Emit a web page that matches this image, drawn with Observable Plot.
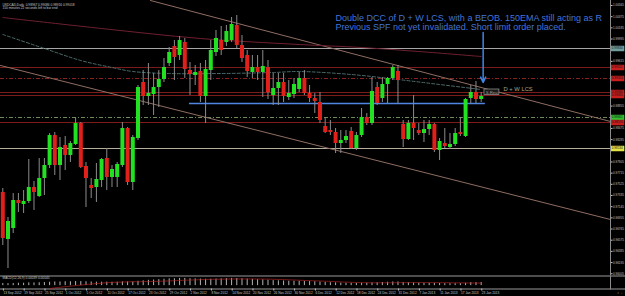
<!DOCTYPE html>
<html><head><meta charset="utf-8">
<script src="https://cdn.jsdelivr.net/npm/d3@7"></script>
<script src="https://cdn.jsdelivr.net/npm/@observablehq/plot@0.6"></script>
<style>
html,body{margin:0;padding:0;background:#000;}
#chart svg{display:block;}
</style></head><body><div id="chart"></div>
<script>
// ---------- data ----------
const titleLines = ["USDCAD,Daily  0.98967 0.99086 0.98916 0.99018", "150 minutes 22 seconds left to bar end"];
const opens = [0.97386,0.96587,0.96774,0.97250,0.97182,0.97233,0.97471,0.97318,0.97624,0.97845,
0.98355,0.97845,0.98185,0.98015,0.98202,0.98559,0.97828,0.97505,0.97471,0.97590,
0.97964,0.97641,0.97641,0.97845,0.98474,0.97556,0.98304,0.99256,0.99018,0.99052,
0.99171,0.99307,0.99579,0.99868,0.99715,0.99936,0.99460,0.99375,0.99443,0.99018,
0.99460,0.99766,0.99970,0.99936,0.99970,1.00225,0.99885,0.99715,0.99426,0.99511,
0.99426,0.99511,0.99035,0.99154,0.99256,0.99001,0.99052,0.99137,0.99324,0.99069,
0.98984,0.98916,0.98508,0.98440,0.98406,0.98219,0.98270,0.98423,0.98134,0.98355,
0.98661,0.98559,0.99171,0.98984,0.99222,0.99324,0.99443,0.98542,0.98287,0.98559,
0.98440,0.98389,0.98457,0.98542,0.98100,0.98219,0.98151,0.98202,0.98406,0.98338,
0.98984,0.99086,0.98967];
const highs = [0.97454,0.96961,0.97369,0.97369,0.97420,0.97947,0.97573,0.97964,0.97964,0.98389,
0.98406,0.98321,0.98338,0.98253,0.98644,0.98576,0.97896,0.97624,0.97879,0.97964,
0.98134,0.97845,0.97896,0.98576,0.98491,0.98355,0.99205,0.99460,0.99579,0.99409,
0.99460,0.99664,0.99851,0.99970,1.00038,1.00004,0.99596,0.99545,0.99579,0.99630,
0.99970,1.00140,1.00208,1.00225,1.00361,1.00395,1.00055,0.99800,0.99715,0.99715,
0.99800,0.99630,0.99409,0.99409,0.99409,0.99290,0.99324,0.99426,0.99460,0.99205,
0.99069,0.99086,0.98644,0.98610,0.98474,0.98440,0.98440,0.98491,0.98406,0.98814,
0.98729,0.99341,0.99256,0.99341,0.99341,0.99545,0.99545,0.98610,0.98610,0.99035,
0.98559,0.98610,0.98610,0.98559,0.98304,0.98474,0.98389,0.98474,0.98661,0.98984,
0.99205,0.99273,0.99086];
const lows = [0.96485,0.96094,0.96689,0.97046,0.97029,0.97199,0.97080,0.97301,0.97335,0.97794,
0.97675,0.97590,0.97760,0.97896,0.98185,0.97794,0.97131,0.97284,0.97216,0.97471,
0.97420,0.97471,0.97471,0.97811,0.97505,0.97420,0.98270,0.98865,0.98865,0.98695,
0.98831,0.99256,0.99528,0.99290,0.99630,0.99324,0.99035,0.99205,0.98916,0.98559,
0.99290,0.99698,0.99715,0.99868,0.99936,0.99834,0.99596,0.99341,0.99324,0.99290,
0.99001,0.98967,0.98865,0.98865,0.98916,0.98950,0.98984,0.99086,0.99035,0.98916,
0.98729,0.98559,0.98389,0.98355,0.98049,0.98049,0.98219,0.98117,0.98100,0.98321,
0.98525,0.98525,0.98865,0.98916,0.98899,0.99290,0.98899,0.98151,0.98270,0.98270,
0.98355,0.98236,0.98355,0.98066,0.97930,0.98134,0.98117,0.98168,0.98338,0.98321,
0.98899,0.98899,0.98916];
const closes = [0.96604,0.96893,0.97250,0.97199,0.97233,0.97471,0.97386,0.97624,0.97845,0.98355,
0.97845,0.98151,0.98015,0.98219,0.98559,0.97811,0.97624,0.97454,0.97607,0.97947,
0.97641,0.97777,0.97862,0.98474,0.97556,0.98321,0.99171,0.99018,0.99069,0.99171,
0.99307,0.99511,0.99766,0.99681,0.99970,0.99477,0.99392,0.99426,0.99018,0.99477,
0.99800,1.00004,0.99800,1.00123,1.00242,0.99885,0.99664,0.99443,0.99511,0.99426,
0.99528,0.99086,0.99154,0.99256,0.99018,0.99069,0.99222,0.99324,0.99069,0.98984,
0.98933,0.98610,0.98406,0.98406,0.98219,0.98270,0.98338,0.98134,0.98355,0.98661,
0.98559,0.99103,0.98899,0.99222,0.99324,0.99511,0.99290,0.98287,0.98559,0.98474,
0.98389,0.98457,0.98542,0.98100,0.98253,0.98168,0.98202,0.98389,0.98372,0.98967,
0.99086,0.98967,0.99018];

const dateTickIdx = [0,4,8,12,16,20,24,28,32,36,40,44,48,52,56,60,64,68,72,76,80,84,88,92];
const dateTickLabels = ["13 Sep 2012","19 Sep 2012","25 Sep 2012","1 Oct 2012","5 Oct 2012","11 Oct 2012",
"17 Oct 2012","23 Oct 2012","29 Oct 2012","2 Nov 2012","8 Nov 2012","14 Nov 2012","20 Nov 2012",
"26 Nov 2012","30 Nov 2012","6 Dec 2012","12 Dec 2012","18 Dec 2012","24 Dec 2012","31 Dec 2012",
"7 Jan 2013","11 Jan 2013","17 Jan 2013","23 Jan 2013"];
const priceTicks = [1.00565,1.00375,1.00185,0.99995,0.99805,0.99615,0.99425,0.99235,0.99045,0.98855,
0.98665,0.98475,0.98285,0.98095,0.97905,0.97715,0.97525,0.97335,0.97145,0.96955,0.96765,0.96575,
0.96385,0.96195,0.96005];

const levelPrices = [0.99834,0.99511,0.99324,0.99086,0.99035,0.98661,0.98576,0.98134];
const levelKinds  = ["grey","red","reddash","red","red","greendash","red","beige"];

const emaIdx = [0,8,15,21,25,32,42,52,57,67,76,84,92];
const emaVal = [1.00072,0.99834,0.99630,0.99511,0.99443,0.99409,0.99409,0.99426,0.99443,0.99392,0.99307,0.99222,0.99137];
const smaIdx = [0,19,38,57,69,80,92];
const smaVal = [1.00361,1.00174,1.00004,0.99902,0.99851,0.99783,0.99698];

const trendAIdx = [28.4,116.87];  const trendAVal = [1.00650,0.98593];
const trendBIdx = [-0.44,116.87]; const trendBVal = [0.99545,0.96927];

const supportIdx = [35.9,92.8];   const supportPrice = 0.98899;
const arrowIdx = 92.38; const arrowFrom = 1.00106; const arrowTo = 0.99256;
const noteLines = ["Double DCC of D + W LCS, with a BEOB. 150EMA still acting as R",
                   "Previous SPF not yet invalidated. Short limit order placed."];
const noteIdx = 64.0; const notePrice = 1.00419;
const lcsText = "D + W LCS"; const lcsIdx = 96.3; const lcsPrice = 0.99135;
const boxText = "S.Resi"; const boxIdx = [92.63,95.5]; const boxPrice = [0.99043,0.99137];

const macdHist = [0.22,0.2,0.22,0.25,0.25,0.28,0.28,0.3,0.32,0.35,
0.38,0.38,0.4,0.4,0.42,0.42,0.4,0.38,0.36,0.36,
0.36,0.35,0.35,0.38,0.38,0.38,0.45,0.5,0.55,0.58,
0.62,0.66,0.7,0.72,0.75,0.75,0.72,0.7,0.68,0.66,
0.66,0.68,0.7,0.72,0.75,0.74,0.72,0.68,0.65,0.62,
0.6,0.56,0.52,0.5,0.48,0.46,0.45,0.45,0.44,0.42,
0.4,0.37,0.33,0.3,0.28,0.26,0.25,0.24,0.23,0.24,
0.25,0.28,0.3,0.32,0.35,0.38,0.38,0.33,0.3,0.28,
0.26,0.25,0.25,0.24,0.22,0.2,0.2,0.2,0.2,0.25,
0.3,0.32,0.33];
const signalIdx = [9,20,30,40,50,60,70,80,92];
const signalVal = [-0.3,0.3,0.45,0.65,0.68,0.5,0.3,0.32,0.26];
const macdLabel = "MACD(12,26,9) 0.00039 0.00045";

// ---------- build ----------
const xMin = -0.442, xMax = 116.87;
const xFull = xMin + (xMax - xMin) * 625 / 610;
const fmt5 = d3.format(".5f");
const candles = opens.map((o, i) => ({i, open: o, high: highs[i], low: lows[i], close: closes[i], up: closes[i] >= o}));
const levels = levelPrices.map((p, k) => ({p, kind: levelKinds[k]}));
const levelStyle = {
  grey: {stroke: "#a6a6a6", box: "#6e9f9f"},
  red: {stroke: "#7d1b1b", box: "#c81e1e"},
  reddash: {stroke: "#8a2222", dash: "4,2,1,2", box: "#c81e1e"},
  greendash: {stroke: "#6c8c5c", dash: "4,2,1,2", box: "#2fc22f"},
  beige: {stroke: "#b6ad9c", box: "#e3e346"}
};
// tick labels hidden behind the coloured price boxes are not drawn
const visibleTicks = priceTicks.filter(t => levelPrices.every(p => Math.abs(p - t) > 0.0009));
const zip = (a, b) => a.map((v, k) => ({i: v, p: b[k]}));
const font = "'Liberation Sans', Arial, sans-serif";

const main = Plot.plot({
  width: 625, height: 275,
  marginTop: 0, marginBottom: 1, marginLeft: 0, marginRight: 15,
  style: {background: "#000", color: "#c4c4c4", fontFamily: font},
  x: {domain: [xMin, xMax], axis: null},
  y: {domain: [0.95992, 1.0065]},
  marks: [
    ...Object.entries(levelStyle).map(([kind, s]) =>
      Plot.ruleY(levels.filter(d => d.kind === kind), {y: "p", stroke: s.stroke, strokeDasharray: s.dash, strokeWidth: 1})),
    Plot.line(zip(trendAIdx, trendAVal), {x: "i", y: "p", stroke: "#8f6e62", strokeWidth: 1}),
    Plot.line(zip(trendBIdx, trendBVal), {x: "i", y: "p", stroke: "#8f6e62", strokeWidth: 1}),
    Plot.line(zip(smaIdx, smaVal), {x: "i", y: "p", stroke: "#6e2030", strokeWidth: 1, curve: "catmull-rom"}),
    Plot.line(zip(emaIdx, emaVal), {x: "i", y: "p", stroke: "#4d6b6b", strokeWidth: 1, strokeDasharray: "3,2", curve: "catmull-rom"}),
    Plot.ruleY([supportPrice], {x1: supportIdx[0], x2: supportIdx[1], stroke: "#4f86e2", strokeWidth: 1.3}),
    Plot.ruleX(candles, {x: "i", y1: "low", y2: "high", stroke: "#8c8c8c", strokeWidth: 1}),
    Plot.ruleX(candles, {x: "i", y1: "open", y2: "close", stroke: d => d.up ? "#22e022" : "#e0201a", strokeWidth: 4}),
    Plot.arrow([{i: arrowIdx, a: arrowFrom, b: arrowTo}], {x1: "i", x2: "i", y1: "a", y2: "b", stroke: "#3d86e6", strokeWidth: 1.5, headLength: 6, headAngle: 50}),
    Plot.rect([{}], {x1: boxIdx[0], x2: boxIdx[1], y1: boxPrice[0], y2: boxPrice[1], fill: "#1a1a1a", stroke: "#8a8a8a", strokeWidth: 0.8}),
    Plot.text([boxText], {x: (boxIdx[0] + boxIdx[1]) / 2, y: (boxPrice[0] + boxPrice[1]) / 2, text: d => d, fontSize: 4.2, fill: "#9a9a9a"}),
    Plot.text([lcsText], {x: lcsIdx, y: lcsPrice, text: d => d, fontSize: 5.8, fill: "#a8a888", textAnchor: "start"}),
    Plot.text([noteLines.join("\n")], {x: noteIdx, y: notePrice, text: d => d, fontSize: 9, lineHeight: 1.06, lineAnchor: "top", textAnchor: "start", fill: "#4274d8"}),
    Plot.text([titleLines.join("\n")], {frameAnchor: "top-left", dx: 2, dy: 2.6, text: d => d, fontSize: 3.2, lineHeight: 1.1, lineAnchor: "top", textAnchor: "start", fill: "#c8c8c8"}),
    Plot.axisY({anchor: "right", ticks: visibleTicks, tickFormat: fmt5, fontSize: 3, tickSize: 1.5, tickPadding: 1, color: "#c4c4c4"}),
    Plot.ruleY(levels, {y: "p", x1: xMax + 0.1, x2: xMax + 2.75, stroke: d => levelStyle[d.kind].box, strokeWidth: 5.5}),
    Plot.text(levels, {y: "p", x: xMax + 0.25, text: d => fmt5(d.p), fontSize: 3, fill: "#111", textAnchor: "start"}),
    Plot.frame({anchor: "right", stroke: "#8c8c8c"})
  ]
});

const tickMap = new Map(dateTickIdx.map((v, k) => [v, dateTickLabels[k]]));
const sub = Plot.plot({
  width: 625, height: 21,
  marginTop: 0.5, marginBottom: 7.5, marginLeft: 0, marginRight: 15,
  style: {background: "#000", color: "#c8c8c8", fontFamily: font},
  x: {domain: [xMin, xMax]},
  y: {domain: [-0.35, 1.0], axis: null},
  marks: [
    Plot.ruleY([-0.35, 1.0], {x1: xMin, x2: xFull, stroke: "#9a9a9a", strokeWidth: 1}),
    Plot.ruleX(macdHist.map((v, i) => ({i, v})), {x: "i", y1: 0, y2: "v", stroke: "#b4b4b4", strokeWidth: 1}),
    Plot.line(zip(signalIdx, signalVal), {x: "i", y: "p", stroke: "#c02020", strokeWidth: 0.8, strokeDasharray: "1,1", curve: "catmull-rom"}),
    Plot.text([macdLabel], {frameAnchor: "top-left", dx: 2, dy: 1.2, text: d => d, fontSize: 3.2, lineAnchor: "top", textAnchor: "start", fill: "#c8c8c8"}),
    Plot.axisX({anchor: "bottom", ticks: dateTickIdx, tickFormat: d => tickMap.get(d), tickSize: 2, tickPadding: 0.8, fontSize: 3.2, textAnchor: "start", dx: 0.6, color: "#c8c8c8"}),
    Plot.frame({anchor: "right", stroke: "#8c8c8c"})
  ]
});

const root = document.getElementById("chart");
root.append(main, sub);
</script></body></html>
